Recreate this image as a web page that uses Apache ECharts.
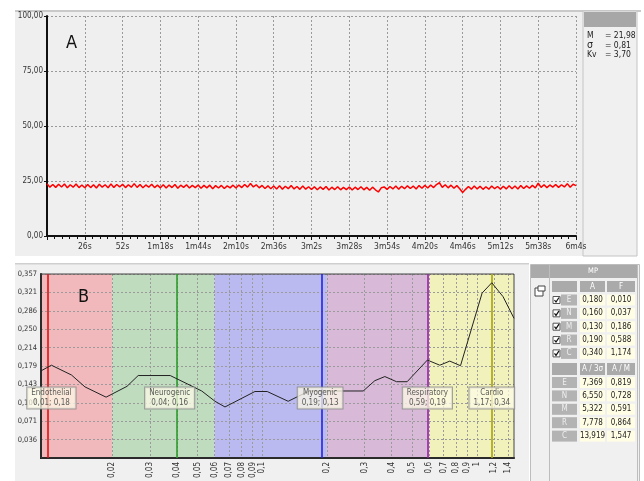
<!DOCTYPE html>
<html><head><meta charset="utf-8">
<script src="https://cdn.jsdelivr.net/npm/echarts@6/dist/echarts.min.js"></script>
<style>html,body{margin:0;padding:0;background:#fff}#c{width:644px;height:481px}</style>
</head><body><div id="c"></div>
<script>
// ---------- DATA ----------
const timeTickLabels = ['', '26s','52s','1m18s','1m44s','2m10s','2m36s','3m2s','3m28s','3m54s','4m20s','4m46s','5m12s','5m38s','6m4s'];
const timeStepSec = 2;
const signal = [
23.7,22.2,23.4,22.1,23.5,22.3,23.6,21.9,23.3,22.2,23.6,22.0,23.2,
21.9,23.4,22.0,23.3,21.8,23.5,22.2,23.3,21.9,23.6,22.1,23.4,22.3,
23.5,22.0,23.3,22.2,23.8,22.1,23.4,21.9,23.2,22.2,23.5,22.0,23.1,
21.9,23.3,21.8,23.2,22.0,23.4,21.7,23.1,22.1,23.3,21.8,23.0,22.0,
23.2,21.7,23.0,21.9,23.1,21.5,22.9,21.8,23.0,21.6,22.8,21.9,23.1,
21.8,23.2,22.0,23.4,22.2,23.9,22.3,23.3,21.9,23.0,21.6,22.8,21.5,
22.7,21.4,22.8,21.3,22.6,21.5,22.9,21.4,22.5,21.2,22.7,21.3,22.4,
21.1,22.4,21.0,22.3,21.2,22.5,20.9,22.2,21.1,22.4,21.0,22.1,21.1,
22.3,20.9,22.2,21.1,22.4,21.0,22.1,20.8,22.2,21.0,20.0,21.9,22.3,
21.2,22.5,21.4,22.7,21.3,22.6,21.5,22.8,21.6,22.7,21.4,22.9,21.7,
23.0,21.8,23.2,22.0,23.4,24.2,22.1,23.3,21.9,23.1,21.7,22.9,21.5,
19.8,21.2,22.5,21.3,22.7,21.4,22.6,21.2,22.4,21.3,22.7,21.5,22.5,
21.3,22.6,21.4,22.8,21.5,22.7,21.4,22.9,21.6,22.8,21.7,23.0,21.9,
24.0,22.1,23.3,22.0,23.2,22.2,23.4,22.1,23.3,22.3,23.8,22.2,23.5,
22.9];
const topYTickLabels = ['0,00','25,00','50,00','75,00','100,00'];
const statNames = ['M', '\u03c3', 'Kv'];
const statValues = ['21,98', '0,81', '3,70'];

const ampTickLabels = ['', '0,036','0,071','0,107','0,143','0,179','0,214','0,250','0,286','0,321','0,357'];
const freqTicks = [0.02,0.03,0.04,0.05,0.06,0.07,0.08,0.09,0.1,0.2,0.3,0.4,0.5,0.6,0.7,0.8,0.9,1,1.2,1.4];
const spectrumFreq = [0.0093,0.0104,0.0129,0.0149,0.0187,0.0234,0.0264,0.0372,0.0441,0.0522,0.0602,0.067,0.0924,0.1054,0.132,0.158,0.1667,0.2952,0.3346,0.3726,0.4224,0.4732,0.588,0.672,0.748,0.839,1.058,1.174,1.325,1.49];
const spectrumAmp  = [0.169,0.180,0.161,0.138,0.118,0.139,0.16,0.16,0.145,0.130,0.110,0.099,0.129,0.129,0.110,0.126,0.13,0.13,0.150,0.158,0.148,0.148,0.190,0.180,0.188,0.179,0.320,0.340,0.313,0.271];
const bandNames = ['Endothelial','Neurogenic','Myogenic','Respiratory','Cardio'];
const bandCodes = ['E','N','M','R','C'];
const bandEdges = [0.0093, 0.02, 0.06, 0.2, 0.6, 1.49];
const peakA = [0.180, 0.160, 0.130, 0.190, 0.340];
const peakF = [0.0104, 0.037, 0.186, 0.588, 1.174];
const ratioA3s = ['7,369','6,550','5,322','7,778','13,919'];
const ratioAM  = ['0,819','0,728','0,591','0,864','1,547'];
const labelBoxAmp = 0.1165;

// ---------- STYLE ----------
const FONT = '"Liberation Sans Narrow","DejaVu Sans Condensed","Arial Narrow","Liberation Sans",sans-serif';
const bandColors = ['#f2b9bd','#bfdcbf','#babaf0','#d8bad8','#f1f1bb'];
const lineColors = ['#e01010','#2e9a2e','#2424e0','#9a20a8','#a8a400'];
const comma = s => String(s).replace('.', ',');

const chart = echarts.init(document.getElementById('c'), null, {renderer:'canvas'});

const G = [];
function rect(x,y,w,h,fill,stroke,z){G.push({type:'rect',z:z||-10,silent:true,shape:{x,y,width:w,height:h},style:{fill,stroke:stroke||null,lineWidth:1}});}
function text(t,x,y,size,color,align,z){G.push({type:'text',z:z||5,silent:true,style:{text:t,x,y,font:size+'px '+FONT,fill:color,textAlign:align||'left',textVerticalAlign:'middle'}});}
// page panels
rect(15,11,568,245,'#efefef');
rect(15,10,626,2,'#c9c9c9');
rect(583,11,54,245,'#f0f0f0','#c4c4c4');
rect(584,12,52,15,'#a7a7a7');
rect(15,264,514,217,'#f0f0f0');
rect(15,263,514,1.5,'#cfcfcf');
rect(530.5,264.5,109,217,'#f0f0f0','#bdbdbd');
rect(549.5,264.5,88,217,'#f0f0f0','#bdbdbd');
rect(531,265,18,13,'#aaaaaa');
rect(550,265,87,13,'#aaaaaa');
text('MP',593,271.5,7.5,'#ffffff','center');
rect(535,288,8,8,'#ffffff','#444',5);
rect(538,286,7,5,'#ffffff','#444',5);
// stats
for (let i=0;i<statNames.length;i++){
  const y = 36 + i*9.5;
  text(statNames[i],587,y,i===1?10.5:8.5,'#222','left');
  text('= '+statValues[i],605,y,8.5,'#222','left');
}
text('A',66,43,18,'#111','left');
text('B',78,297,18,'#111','left');
// table 1
rect(552,281,25,11,'#aaaaaa',null,1);
rect(580,281,25,11,'#aaaaaa',null,1);
rect(607,281,28,11,'#aaaaaa',null,1);
text('A',592.5,286.5,8,'#fff','center');
text('F',621,286.5,8,'#fff','center');
for (let i=0;i<bandCodes.length;i++){
  const cy = 300 + i*13.35;
  rect(553,cy-3.5,7,7,'#ffffff','#555',2);
  G.push({type:'polyline',z:6,silent:true,shape:{points:[[554.5,cy],[556,cy+2],[559,cy-2.5]]},style:{stroke:'#111',lineWidth:1.2,fill:null}});
  rect(561,cy-5.5,16,11,'#b3b3b3',null,1);
  text(bandCodes[i],569,cy,8,'#eeeeee','center');
  rect(580,cy-5.5,25,11,'#fffde4',null,1);
  rect(607,cy-5.5,28,11,'#fffde4',null,1);
  text(comma(peakA[i].toFixed(3)),592.5,cy,8,'#222','center');
  text(comma(peakF[i].toFixed(3)),621,cy,8,'#222','center');
}
// table 2
rect(552,363,25,12,'#aaaaaa',null,1);
rect(580,363,25,12,'#aaaaaa',null,1);
rect(607,363,28,12,'#aaaaaa',null,1);
text('A / 3\u03c3',592.5,369,8,'#fff','center');
text('A / M',621,369,8,'#fff','center');
for (let i=0;i<bandCodes.length;i++){
  const cy = 382.5 + i*13.4;
  rect(552,cy-5.5,25,11,'#b3b3b3',null,1);
  text(bandCodes[i],564.5,cy,8,'#eeeeee','center');
  rect(580,cy-5.5,25,11,'#fffde4',null,1);
  rect(607,cy-5.5,28,11,'#fffde4',null,1);
  text(ratioA3s[i],592.5,cy,8,'#222','center');
  text(ratioAM[i],621,cy,8,'#222','center');
}

const signalData = signal.map((v,i)=>[i*timeStepSec, v]);
const spectrumData = spectrumFreq.map((f,i)=>[f, spectrumAmp[i]]);
const bandAreas = bandColors.map((c,i)=>[{xAxis:bandEdges[i], itemStyle:{color:c}},{xAxis:bandEdges[i+1]}]);
const peakLines = peakF.map((f,i)=>({xAxis:f, lineStyle:{color:lineColors[i], width:1.6, type:'solid'}}));
const labelData = peakF.map((f,i)=>({value:[f, labelBoxAmp], name:bandNames[i]+'\n'+comma(f.toFixed(2))+'; '+comma(peakA[i].toFixed(2))}));

const dashed = {show:true, lineStyle:{color:'#9a9a9a', type:[2,2], width:1}};

chart.setOption({
  backgroundColor:'#ffffff',
  animation:false,
  textStyle:{fontFamily:FONT},
  graphic:{elements:G},
  grid:[
    {left:47, top:16, width:529, height:220, show:false},
    {left:41, top:274, width:473, height:187, show:true, borderColor:'#444', borderWidth:1, backgroundColor:'transparent', z:3}
  ],
  xAxis:[
    {gridIndex:0, type:'value', min:0, max:364, interval:26,
     axisLine:{show:true, onZero:false, lineStyle:{color:'#111', width:2}},
     axisTick:{show:true, length:4, lineStyle:{color:'#111'}},
     minorTick:{show:true, splitNumber:5, length:3, lineStyle:{color:'#111'}},
     axisLabel:{fontSize:8.5, color:'#333', margin:6, fontFamily:FONT,
       formatter:v=>timeTickLabels[Math.round(v/26)]||''},
     splitLine:dashed},
    {gridIndex:1, type:'log', logBase:10, min:bandEdges[0], max:bandEdges[5],
     axisLine:{show:true, onZero:false, lineStyle:{color:'#111', width:2}},
     axisTick:{show:false, customValues:freqTicks},
     axisLabel:{customValues:freqTicks, rotate:90, fontSize:8, color:'#333', margin:4, fontFamily:FONT,
       formatter:v=>comma(v)},
     splitLine:dashed, minorSplitLine:{show:false}}
  ],
  yAxis:[
    {gridIndex:0, type:'value', min:0, max:100, interval:25,
     axisLine:{show:true, lineStyle:{color:'#111', width:2}},
     axisTick:{show:true, length:3, lineStyle:{color:'#111'}},
     axisLabel:{fontSize:8, color:'#333', margin:4, fontFamily:FONT,
       formatter:v=>topYTickLabels[Math.round(v/25)]},
     splitLine:dashed},
    {gridIndex:1, type:'value', min:0, max:0.357, interval:0.0357,
     axisLine:{show:true, lineStyle:{color:'#111', width:2}},
     axisTick:{show:false},
     axisLabel:{fontSize:7.5, color:'#333', margin:4, fontFamily:FONT,
       formatter:v=>ampTickLabels[Math.round(v/0.0357)]||''},
     splitLine:dashed}
  ],
  series:[
    {type:'line', xAxisIndex:0, yAxisIndex:0, data:signalData, showSymbol:false, symbol:'none',
     lineStyle:{color:'#ff0000', width:1.5}},
    {type:'line', xAxisIndex:1, yAxisIndex:1, data:[], showSymbol:false, z:-1,
     markArea:{silent:true, z:-1, data:bandAreas}},
    {type:'line', xAxisIndex:1, yAxisIndex:1, data:spectrumData, showSymbol:false, symbol:'none',
     lineStyle:{color:'#222', width:1}, z:4,
     markLine:{silent:true, symbol:'none', label:{show:false}, z:3, data:peakLines}},
    {type:'scatter', xAxisIndex:1, yAxisIndex:1, data:labelData, symbolSize:0, z:10,
     label:{show:true, position:'inside', formatter:p=>p.name, fontSize:8, lineHeight:10, color:'#333', fontFamily:FONT,
       backgroundColor:'rgba(253,251,230,0.92)', borderColor:'#8a8a8a', borderWidth:1, padding:[1,4,0,4], align:'center'}}
  ]
});
</script></body></html>
